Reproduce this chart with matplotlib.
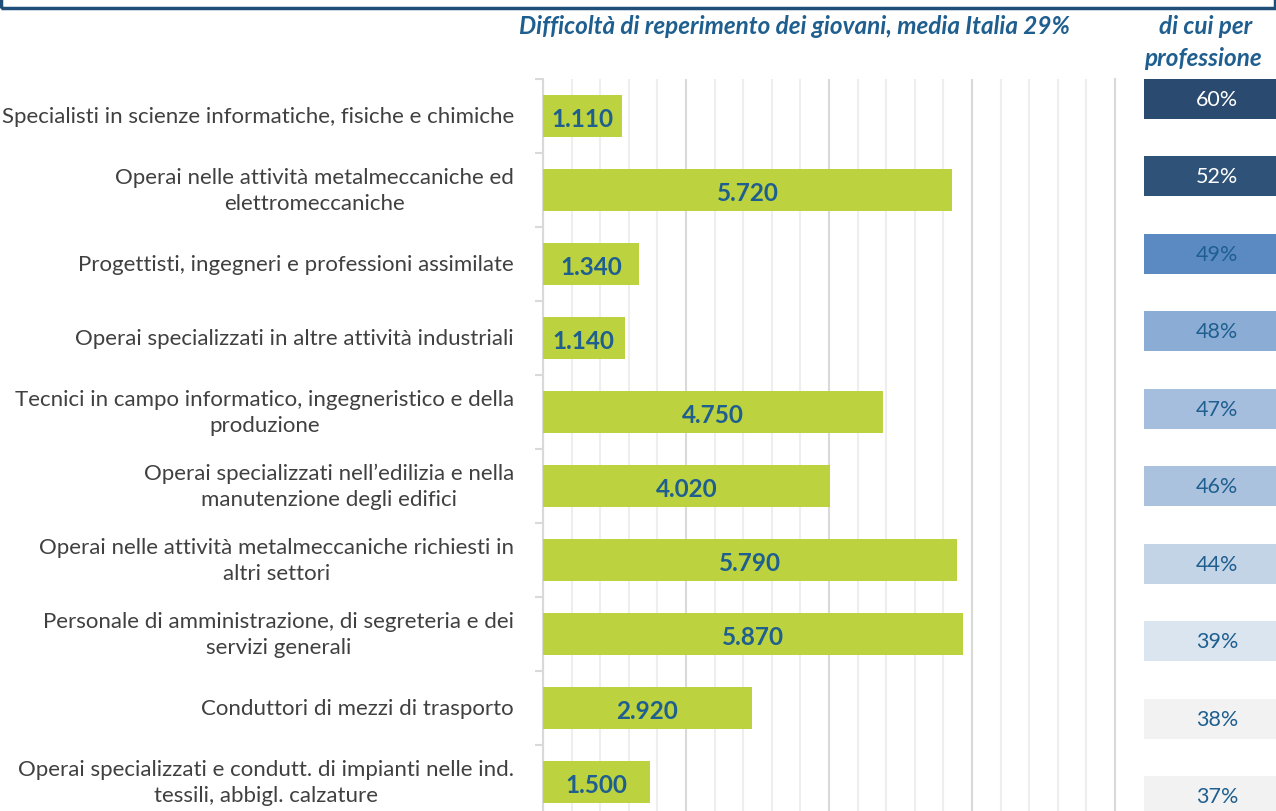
import matplotlib.pyplot as plt
from matplotlib.patches import Rectangle
from matplotlib.ticker import MultipleLocator, FixedLocator

# data
professioni = [
    "Specialisti in scienze informatiche, fisiche e chimiche",
    "Operai nelle attività metalmeccaniche ed\nelettromeccaniche",
    "Progettisti, ingegneri e professioni assimilate",
    "Operai specializzati in altre attività industriali",
    "Tecnici in campo informatico, ingegneristico e della\nproduzione",
    "Operai specializzati nell’edilizia e nella\nmanutenzione degli edifici",
    "Operai nelle attività metalmeccaniche richiesti in\naltri settori",
    "Personale di amministrazione, di segreteria e dei\nservizi generali",
    "Conduttori di mezzi di trasporto",
    "Operai specializzati e condutt. di impianti nelle ind.\ntessili, abbigl. calzature",
]
giovani_difficili = [1110, 5720, 1340, 1140, 4750, 4020, 5790, 5870, 2920, 1500]
quota_difficolta = [60, 52, 49, 48, 47, 46, 44, 39, 38, 37]
colori_quota = ["#2b4a6f", "#2f5279", "#5b8ac3", "#8badd5", "#a6bedd",
                "#abc2df", "#c3d4e7", "#dbe5f0", "#f2f2f2", "#f2f2f2"]

BLU = "#1f5f8f"
VERDE = "#bdd23f"
GRIGIO = "#404040"
FONT = ["Lato", "DejaVu Sans"]

plt.rcParams["font.family"] = FONT

W, H = 1276, 812
fig = plt.figure(figsize=(W / 100, H / 100), dpi=100)


def px_axes(x0, y0, x1, y1):
    return fig.add_axes([x0 / W, 1 - y1 / H, (x1 - x0) / W, (y1 - y0) / H])


# main bar chart
ax = px_axes(543, 80, 1115, 820)
n = len(professioni)
y = list(range(n))
ax.barh(y, giovani_difficili, height=0.58, color=VERDE, zorder=3)
ax.set_xlim(0, 8000)
ax.set_ylim(n - 0.5, -0.5)
ax.xaxis.set_major_locator(MultipleLocator(2000))
ax.xaxis.set_minor_locator(MultipleLocator(400))
ax.grid(axis="x", which="major", color="#d9d9d9", lw=1.5, zorder=0)
ax.grid(axis="x", which="minor", color="#eeeeee", lw=1.5, zorder=0)
ax.tick_params(axis="x", which="both", length=0, labelbottom=False)
ax.set_yticks(y)
ax.set_yticklabels(professioni, fontsize=16, color=GRIGIO,
                   multialignment="center", linespacing=1.35)
for t in ax.get_yticklabels():
    t.set_va("center")
ax.yaxis.set_minor_locator(FixedLocator([i - 0.5 for i in range(n + 1)]))
ax.tick_params(axis="y", which="major", length=0, pad=21)
ax.tick_params(axis="y", which="minor", length=6, color="#d9d9d9", width=1.5)
for s in ["top", "bottom"]:
    ax.spines[s].set_visible(False)
for s in ["left", "right"]:
    ax.spines[s].set_color("#d9d9d9")
    ax.spines[s].set_linewidth(1.5)
for yi, v in zip(y, giovani_difficili):
    ax.text(v / 2, yi + 0.03, f"{v:,}".replace(",", "."), ha="center",
            va="center", fontsize=17.5, fontweight="bold", color=BLU, zorder=4)

# right panel with the share per profession
ax2 = px_axes(1144, 61, 1320, 836)
ax2.barh(y, [1] * n, height=0.52, left=0, color=colori_quota)
ax2.set_xlim(0, 1)
ax2.set_ylim(n - 0.5, -0.5)
ax2.axis("off")
for yi, q in zip(y, quota_difficolta):
    col = "white" if q >= 50 else BLU
    ax2.text(0.415, yi, f"{q}%", ha="center", va="center", fontsize=15.5,
             color=col)

# header frame (cut off at the top)
fig.add_artist(Rectangle((1 / W, 1 - 9 / H), 1 - 2 / W, 0.1,
                         transform=fig.transFigure, fill=False,
                         edgecolor="#1f4e79", lw=2.5))

fig.text(795 / W, 1 - 27 / H, "Difficoltà di reperimento dei giovani, media Italia 29%",
         ha="center", va="center", fontsize=17.5, fontweight="bold",
         fontstyle="italic", color=BLU)
fig.text(1206 / W, 1 - 27 / H, "di cui per", ha="center", va="center",
         fontsize=17.5, fontweight="bold", fontstyle="italic", color=BLU)
fig.text(1203 / W, 1 - 58 / H, "professione", ha="center", va="center",
         fontsize=17.5, fontweight="bold", fontstyle="italic", color=BLU)

fig.savefig("out.png", dpi=100, facecolor="white")
